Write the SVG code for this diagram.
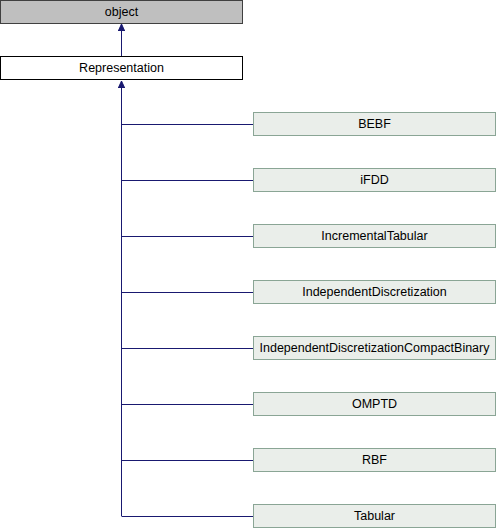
<svg xmlns="http://www.w3.org/2000/svg" width="496" height="528" viewBox="0 0 496 528">
<style>
text{font-family:"Liberation Sans",Arial,sans-serif;font-size:12.5px;fill:#000;text-anchor:middle}
.child rect{fill:#eaeeea;stroke:#8aa595;stroke-width:1}
.edge{stroke:#191970;stroke-width:1;fill:none}
</style>
<defs>
<marker id="ah" markerWidth="8" markerHeight="8" refX="7" refY="4" orient="auto" markerUnits="userSpaceOnUse">
<path d="M0,0.8 L7,4 L0,7.2 Z" fill="#191970" stroke="#191970" stroke-width="1"/>
</marker>
</defs>
<rect width="496" height="528" fill="#fff"/>
<g id="connectors">
<path class="edge" d="M121.5,56 V24" marker-end="url(#ah)"/>
<path class="edge" d="M121.5,516 V81" marker-end="url(#ah)"/>
<path class="edge" d="M121.5,124.5 H253"/>
<path class="edge" d="M121.5,180.5 H253"/>
<path class="edge" d="M121.5,236.5 H253"/>
<path class="edge" d="M121.5,292.5 H253"/>
<path class="edge" d="M121.5,348.5 H253"/>
<path class="edge" d="M121.5,404.5 H253"/>
<path class="edge" d="M121.5,460.5 H253"/>
<path class="edge" d="M121.5,516.5 H253"/>
</g>
<g id="object"><rect x="0.5" y="0.5" width="242" height="23" fill="#bfbfbf" stroke="#404040"/><text x="121.5" y="16">object</text></g>
<g id="Representation"><rect x="0.5" y="56.5" width="242" height="23" fill="#fff" stroke="#000"/><text x="121.5" y="72">Representation</text></g>
<g id="BEBF" class="child"><rect x="253.5" y="112.5" width="242" height="23"/><text x="374.5" y="128">BEBF</text></g>
<g id="iFDD" class="child"><rect x="253.5" y="168.5" width="242" height="23"/><text x="374.5" y="184">iFDD</text></g>
<g id="IncrementalTabular" class="child"><rect x="253.5" y="224.5" width="242" height="23"/><text x="374.5" y="240">IncrementalTabular</text></g>
<g id="IndependentDiscretization" class="child"><rect x="253.5" y="280.5" width="242" height="23"/><text x="374.5" y="296">IndependentDiscretization</text></g>
<g id="IndependentDiscretizationCompactBinary" class="child"><rect x="253.5" y="336.5" width="242" height="23"/><text x="374.5" y="352">IndependentDiscretizationCompactBinary</text></g>
<g id="OMPTD" class="child"><rect x="253.5" y="392.5" width="242" height="23"/><text x="374.5" y="408">OMPTD</text></g>
<g id="RBF" class="child"><rect x="253.5" y="448.5" width="242" height="23"/><text x="374.5" y="464">RBF</text></g>
<g id="Tabular" class="child"><rect x="253.5" y="504.5" width="242" height="23"/><text x="374.5" y="520">Tabular</text></g>
</svg>
